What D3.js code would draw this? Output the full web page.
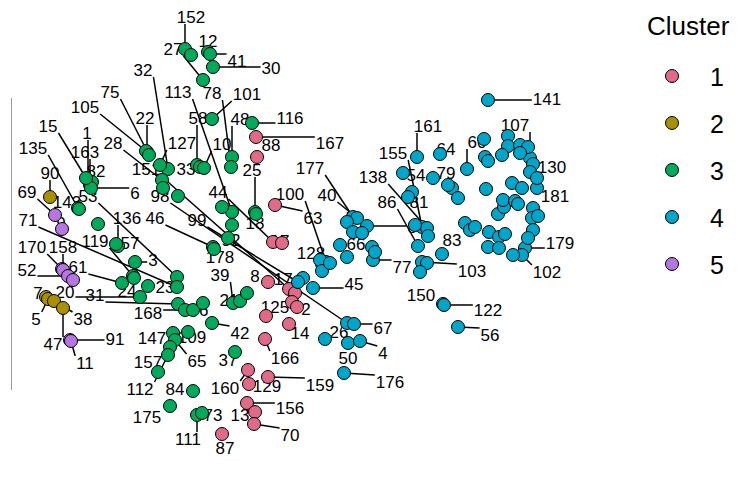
<!DOCTYPE html>
<html><head><meta charset="utf-8">
<script src="https://cdn.jsdelivr.net/npm/d3@7"></script>
<style>body{margin:0;background:#fff}svg{display:block}</style>
</head><body><svg id="chart" width="738" height="479"></svg>
<script>
// [id, dim1, dim2, labelDim1, labelDim2]  (id null = unlabeled)
const cluster1 = [
[167,256,137,330,143],[88,257,157,271,145],[63,275,205,313,218],[44,273,242,218,192],
[17,282,243,280,241],[8,268,282,255,276],[151,289,289,146,169],[null,295,293],[null,292,302],
[2,297,307,306,309],[125,266,316,275,307],[14,289,324,300,333],[166,265,339,285,358],
[160,248,370,225,388],[129,249,384,267,386],[159,268,377,320,385],[156,247,403,290,408],
[13,255,412,240,415],[70,254,424,290,435],[87,222,434,225,448]
];
const cluster2 = [
[90,50,197,50,173],[7,46,297,38,293],[5,48,299,36,319],[38,54,301,83,319],[47,63,308,53,344]
];
const cluster3 = [
[152,185,49,191,17],[null,191,55],[12,208,52,208,41],[41,210,54,237,61],[30,213,67,271,68],
[27,203,80,173,49],[101,212,119,247,94],[116,252,123,290,118],[48,232,157,240,119],
[78,231,167,212,93],[58,197,165,198,118],[33,200,167,186,169],[10,204,168,222,144],
[22,147,152,145,118],[105,146,151,85,107],[75,149,155,110,92],[32,168,169,143,70],
[127,160,165,182,143],[28,162,180,113,143],[null,163,188],[null,178,196],
[1,88,180,87,133],[163,90,185,85,152],[82,92,182,96,171],[6,91,188,135,193],[15,86,178,48,126],
[135,78,208,33,148],[143,79,209,67,202],[53,177,277,88,196],[null,98,224],
[136,118,246,127,218],[57,116,244,130,243],[119,133,276,95,241],[71,177,287,28,220],
[3,135,262,153,260],[61,122,283,78,267],[24,134,278,127,291],[23,148,286,165,287],
[20,140,297,65,292],[31,178,304,95,295],[168,185,310,148,313],[96,193,310,199,310],
[null,203,303],[46,213,247,155,218],[178,214,249,220,257],[92,228,238,231,240],
[null,232,225],[113,232,212,178,92],[null,222,207],[25,255,212,252,170],[18,256,214,255,223],
[39,233,303,220,275],[21,240,301,229,300],[null,247,293],[42,212,323,240,333],
[109,188,332,192,337],[147,173,333,152,338],[65,175,340,197,361],[157,170,347,148,362],
[112,168,355,140,389],[null,158,372],[37,235,352,228,360],[84,193,391,175,389],
[175,170,406,147,417],[111,197,415,188,439],[73,202,413,213,415]
];
const cluster4 = [
[141,488,100,547,99],[161,417,157,428,126],[155,422,227,393,153],[138,427,228,373,177],
[64,440,154,446,149],[54,403,173,416,175],[79,433,178,446,173],[null,452,188],[null,448,185],
[81,412,192,419,202],[null,408,197],[86,418,246,387,202],[85,367,226,417,227],
[null,415,225],[null,428,236],[83,442,254,452,240],[77,373,260,402,267],[103,422,262,472,271],
[null,427,263],[null,420,272],[150,443,304,421,295],[122,444,305,488,310],[56,458,327,490,335],
[60,467,169,477,142],[null,458,198],[null,486,189],[107,530,158,515,125],[130,533,164,552,167],
[181,537,188,555,196],[179,525,248,560,243],[102,522,255,547,272],
[null,484,139],[null,508,136],[null,508,146],[null,520,145],[null,528,147],[null,502,155],
[null,485,157],[null,488,161],[null,520,153],[null,512,183],[null,522,188],[null,530,172],
[null,537,178],[null,533,208],[null,532,218],[null,538,216],[null,533,230],[null,528,238],
[null,513,255],[null,498,214],[null,504,207],[null,503,200],[null,515,201],[null,518,204],
[null,465,223],[null,470,230],[null,475,227],[null,489,232],[null,499,237],[null,505,234],
[null,488,247],[null,499,248],
[177,353,217,310,168],[40,357,218,327,195],[51,347,222,355,218],[null,353,232],[null,362,233],
[66,340,245,356,244],[null,347,257],[128,322,264,311,253],[100,326,262,290,194],
[null,320,260],[null,322,271],[null,330,263],[null,372,247],[null,375,252],
[174,303,278,288,279],[99,298,282,197,220],[45,313,288,354,284],[98,347,323,160,196],
[67,354,324,383,328],[26,325,339,339,332],[50,348,343,348,358],[4,360,341,383,353],
[176,344,373,390,382]
];
const cluster5 = [
[69,55,215,27,192],[9,62,229,61,223],[170,62,269,32,247],[158,63,270,63,247],
[52,68,276,27,270],[null,73,280],[91,70,340,115,339],[11,71,341,85,363]
];
const clusterNames = ["1","2","3","4","5"];
const clusterColors = ["#E16A86","#AA9000","#00AA5A","#00A6CA","#B675E0"];

const svg = d3.select("#chart");
const W = 738, H = 479;
const x = d3.scaleLinear().domain([0, 738]).range([0, W]);
const y = d3.scaleLinear().domain([0, 479]).range([0, H]);
const color = d3.scaleOrdinal().domain(clusterNames).range(clusterColors);

const all = [];
[cluster1, cluster2, cluster3, cluster4, cluster5].forEach((arr, ci) => {
  arr.forEach(r => all.push({id: r[0], px: r[1], py: r[2], lx: r[3], ly: r[4], c: clusterNames[ci]}));
});

// partial axis line at left
svg.append("line").attr("x1", 11.5).attr("x2", 11.5).attr("y1", 98).attr("y2", 390)
  .attr("stroke", "#9a9a9a").attr("stroke-width", 1);

const FS = 17;
const font = "'Liberation Sans', Arial, Helvetica, sans-serif";
const gSeg = svg.append("g"), gLab = svg.append("g"), gPts = svg.append("g");

const labeled = all.filter(d => d.id !== null);
const texts = gLab.selectAll("text").data(labeled).join("text")
  .attr("x", d => x(d.lx)).attr("y", d => y(d.ly)).attr("dy", "0.36em")
  .attr("text-anchor", "middle").attr("font-family", font).attr("font-size", FS)
  .attr("fill", "#000").text(d => d.id);

texts.each(function(d) {
  const w = this.getComputedTextLength();
  const cx = x(d.lx), cy = y(d.ly);
  const x0 = cx - w/2 - 1, x1 = cx + w/2 + 1, y0 = cy - 7, y1 = cy + 7;
  const px = x(d.px), py = y(d.py);
  const nx = Math.max(x0, Math.min(px, x1)), ny = Math.max(y0, Math.min(py, y1));
  const dist = Math.hypot(nx - px, ny - py);
  if (dist > 12) {
    gSeg.append("line").attr("x1", px).attr("y1", py).attr("x2", nx).attr("y2", ny)
      .attr("stroke", "#000").attr("stroke-width", 1.5);
  }
});

gPts.selectAll("circle").data(all).join("circle")
  .attr("cx", d => x(d.px)).attr("cy", d => y(d.py)).attr("r", 6.5)
  .attr("fill", d => color(d.c)).attr("stroke", "#000").attr("stroke-width", 1);

// legend
const lg = svg.append("g");
lg.append("text").attr("x", 647).attr("y", 35).attr("font-family", font).attr("font-size", 26)
  .attr("fill", "#000").text("Cluster");
clusterNames.forEach((n, i) => {
  const cy = 76 + i * 47;
  lg.append("circle").attr("cx", 672).attr("cy", cy).attr("r", 6.5)
    .attr("fill", color(n)).attr("stroke", "#000").attr("stroke-width", 1);
  lg.append("text").attr("x", 710).attr("y", cy + 9.5).attr("font-family", font)
    .attr("font-size", 25).attr("fill", "#000").text(n);
});
</script></body></html>
